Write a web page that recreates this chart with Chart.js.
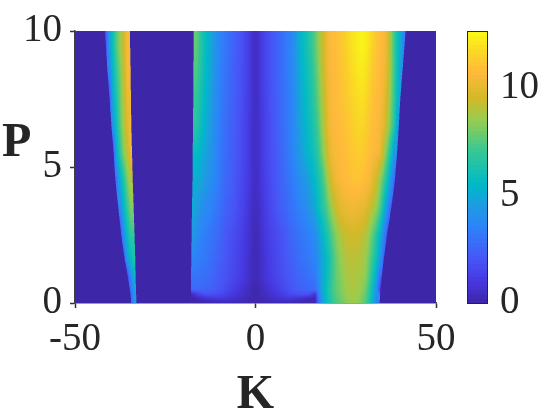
<!DOCTYPE html>
<html>
<head>
<meta charset="utf-8">
<title>P-K map</title>
<script src="https://cdn.jsdelivr.net/npm/chart.js@4"></script>
<style>
    html, body { margin: 0; padding: 0; background: #fff; }
    #wrap { position: relative; width: 560px; height: 420px; }
    canvas { position: absolute; left: 0; top: 0; }
</style>
</head>
<body>
<div id="wrap">
    <canvas id="mapChart" width="560" height="420"></canvas>
    <canvas id="barChart" width="560" height="420"></canvas>
</div>
<script>
// column and row edges of the map
const kEdges = [-50,-49,-48,-47,-46,-45,-44,-43,-42,-41,-40,-39,-38,-37,-36,-35,-34,-33,-32,-31,-30,-29,-28,-27,-26,-25,-24,-23,-22,-21,-20,-19,-18,-17,-16,-15,-14,-13,-12,-11,-10,-9,-8,-7,-6,-5,-4,-3,-2,-1,0,1,2,3,4,5,6,7,8,9,10,11,12,13,14,15,16,17,18,19,20,21,22,23,24,25,26,27,28,29,30,31,32,33,34,35,36,37,38,39,40,41,42,43,44,45,46,47,48,49,50];
const pEdges = [0, 0.1, 0.25, 0.4, 0.6, 1.25, 2, 3, 4, 5, 6, 7, 8, 9, 10];

// values, one row per P band, ten columns per group
const row0 = [0,0,0,0,0,0,0,0,0,0, 0,0,0,0,0,2.5,4.5,0,0,0, 0,0,0,0,0,0,0,0,0,0, 0,0,.1,.1,.1,.1,.1,.2,.2,.2, .3,.3,.3,.3,.3,.2,.2,.2,.1,.1, .1,.1,.2,.2,.2,.3,.3,.3,.3,.3, .2,.2,.2,.1,.1,.1,.1,3,4.5,5.5, 6.3,7,7.4,7.8,8.1,8.4,8.6,8.6,8.4,8, 7.5,6.5,5.3,3.5,0,0,0,0,0,0, 0,0,0,0,0,0,0,0,0,0];
const row1 = [0,0,0,0,0,0,0,0,0,0, 0,0,0,0,0,2.5,4.5,0,0,0, 0,0,0,0,0,0,0,0,0,0, 0,0,.1,.2,.4,.6,.8,.9,1,1, 1,.9,.8,.7,.6,.5,.4,.3,.2,.1, .1,.2,.3,.4,.5,.6,.7,.8,.9,1, .9,.8,.7,.5,.4,.3,.2,3.2,4.6,5.6, 6.4,7.1,7.5,7.9,8.2,8.5,8.7,8.7,8.5,8.1, 7.6,6.6,5.4,3.7,0,0,0,0,0,0, 0,0,0,0,0,0,0,0,0,0];
const row2 = [0,0,0,0,0,0,0,0,0,0, 0,0,0,0,0,2.5,4.5,0,0,0, 0,0,0,0,0,0,0,0,0,0, 0,0,.5,1,1.5,1.8,1.9,1.9,1.8,1.7, 1.6,1.4,1.2,1,.9,.7,.6,.4,.3,.1, .1,.3,.4,.6,.7,.9,1,1.2,1.4,1.6, 1.7,1.8,1.9,1.9,1.9,1.4,.8,3.4,4.7,5.7, 6.5,7.2,7.6,8,8.3,8.6,8.7,8.7,8.6,8.2, 7.7,6.7,5.5,3.9,0,0,0,0,0,0, 0,0,0,0,0,0,0,0,0,0];
const row3 = [0,0,0,0,0,0,0,0,0,0, 0,0,0,0,0,3,4.8,0,0,0, 0,0,0,0,0,0,0,0,0,0, 0,0,2.6,2.7,2.7,2.6,2.5,2.4,2.3,2.1, 1.9,1.7,1.5,1.3,1.1,.9,.7,.5,.3,.1, .1,.3,.5,.7,.9,1.1,1.3,1.5,1.7,1.9, 2.1,2.3,2.4,2.5,2.6,2.7,2.8,3.7,4.9,5.8, 6.6,7.3,7.7,8.1,8.4,8.7,8.8,8.8,8.7,8.4, 7.9,6.9,5.7,4.2,1.5,0,0,0,0,0, 0,0,0,0,0,0,0,0,0,0];
const row4 = [0,0,0,0,0,0,0,0,0,0, 0,0,0,0,1.5,3.8,5.2,0,0,0, 0,0,0,0,0,0,0,0,0,0, 0,0,3,3,3,2.9,2.8,2.7,2.5,2.3, 2.1,2,1.8,1.6,1.4,1.2,1,.8,.5,.3, .3,.5,.8,1,1.2,1.4,1.6,1.8,2,2.1, 2.3,2.5,2.6,2.7,2.9,3,3.2,4,4.9,5.6, 6.4,7.2,7.8,8.2,8.5,8.8,8.9,8.9,8.8,8.6, 8.3,7.4,6.2,4.8,2.5,0,0,0,0,0, 0,0,0,0,0,0,0,0,0,0];
const row5 = [0,0,0,0,0,0,0,0,0,0, 0,0,0,2.5,4.5,5.8,6.5,0,0,0, 0,0,0,0,0,0,0,0,0,0, 0,0,3.6,3.4,3.3,3.2,3.1,2.9,2.7,2.5, 2.3,2.1,1.9,1.7,1.5,1.3,1.1,.8,.5,.3, .3,.5,.8,1.1,1.3,1.5,1.7,1.9,2.1,2.3, 2.5,2.7,2.9,3,3.2,3.4,3.6,4.2,4.9,5.5, 6.3,7.2,7.9,8.4,8.8,9,9.1,9.1,9,8.9, 8.6,7.8,6.9,5.9,4.4,2.5,0,0,0,0, 0,0,0,0,0,0,0,0,0,0];
const row6 = [0,0,0,0,0,0,0,0,0,0, 0,0,1.5,4,5.8,7,0,0,0,0, 0,0,0,0,0,0,0,0,0,0, 0,0,4.4,4,3.7,3.5,3.3,3.1,2.9,2.7, 2.5,2.2,2,1.8,1.6,1.4,1.2,.9,.6,.3, .3,.6,.9,1.2,1.4,1.6,1.8,2,2.2,2.5, 2.7,2.9,3.1,3.2,3.4,3.6,3.9,4.6,5.3,6.1, 6.9,7.7,8.4,8.9,9.2,9.4,9.5,9.5,9.4,9.2, 9,8.4,7.6,6.6,5.4,3.6,2,0,0,0, 0,0,0,0,0,0,0,0,0,0];
const row7 = [0,0,0,0,0,0,0,0,0,0, 0,0,3.8,5.5,7,8.2,0,0,0,0, 0,0,0,0,0,0,0,0,0,0, 0,0,5,4.6,4.3,4,3.8,3.6,3.3,3.1, 2.8,2.5,2.3,2.1,1.9,1.6,1.4,1.1,.7,.4, .4,.7,1.1,1.4,1.7,1.9,2.2,2.4,2.6,2.9, 3.1,3.3,3.6,3.8,4.1,4.5,5,5.8,6.5,7.2, 8.1,8.9,9.5,9.9,10.1,10.2,10.3,10.3,10.2,10.1, 9.9,9.5,9,8.5,7.5,5.8,4,2.5,0,0, 0,0,0,0,0,0,0,0,0,0];
const row8 = [0,0,0,0,0,0,0,0,0,0, 0,3,5,6.5,8,9,0,0,0,0, 0,0,0,0,0,0,0,0,0,0, 0,0,0,5.2,4.9,4.6,4.3,4,3.7,3.4, 3,2.7,2.5,2.3,2,1.8,1.5,1.2,.9,.5, .5,.9,1.2,1.5,1.8,2,2.3,2.6,2.8,3.1, 3.4,3.7,4,4.2,4.6,5,5.6,6.2,7,8, 9.2,9.9,10.3,10.5,10.7,10.8,10.9,11,11,10.9, 10.8,10.5,10,9.4,8.4,7.3,6,4.2,2.5,0, 0,0,0,0,0,0,0,0,0,0];
const row9 = [0,0,0,0,0,0,0,0,0,0, 1.5,5,6.8,8.2,9.2,10.2,0,0,0,0, 0,0,0,0,0,0,0,0,0,0, 0,0,0,5.7,5.4,5,4.7,4.3,3.9,3.5, 3.1,2.8,2.6,2.3,2.1,1.9,1.6,1.3,.9,.5, .5,.9,1.3,1.6,1.9,2.1,2.4,2.7,3,3.3, 3.7,4.1,4.5,5,5.4,5.8,6.3,7,8,9, 10,10.4,10.6,10.7,10.8,10.9,11.1,11.2,11.3,11.3, 11.1,10.9,10.7,10.5,10.2,9,7.6,6.2,4.2,0, 0,0,0,0,0,0,0,0,0,0];
const row10 = [0,0,0,0,0,0,0,0,0,0, 4,6,7.5,8.8,9.8,10.5,0,0,0,0, 0,0,0,0,0,0,0,0,0,0, 0,0,0,6.7,6.1,5.5,5,4.5,4,3.6, 3.2,2.9,2.6,2.4,2.2,1.9,1.6,1.3,.9,.5, .5,.9,1.3,1.6,1.9,2.2,2.5,2.8,3.1,3.4, 3.8,4.3,4.8,5.2,5.7,6.1,6.7,7.5,8.5,9.5, 10.3,10.6,10.7,10.8,10.9,11.1,11.3,11.5,11.6,11.6, 11.4,11.1,10.8,10.7,10.4,10,9,7.8,6.5,4, 0,0,0,0,0,0,0,0,0,0];
const row11 = [0,0,0,0,0,0,0,0,0,2, 5,6.5,7.8,9,10.2,0,0,0,0,0, 0,0,0,0,0,0,0,0,0,0, 0,0,0,7,6.4,5.8,5.2,4.7,4.2,3.7, 3.3,3,2.7,2.5,2.2,2,1.7,1.3,1,.5, .5,1,1.3,1.7,2,2.2,2.5,2.8,3.1,3.4, 3.8,4.4,5,5.4,5.9,6.4,7,7.9,8.8,9.7, 10.4,10.7,10.8,10.9,11.1,11.3,11.5,11.7,11.8,11.9, 11.7,11.4,11,10.8,10.6,10.2,9.5,8.2,6.8,5.2, 0,0,0,0,0,0,0,0,0,0];
const row12 = [0,0,0,0,0,0,0,0,0,3.5, 5.5,7,8,9.2,10.5,0,0,0,0,0, 0,0,0,0,0,0,0,0,0,0, 0,0,0,7.4,6.7,6,5.4,4.9,4.3,3.8, 3.4,3.1,2.8,2.5,2.3,2,1.7,1.4,1,.5, .5,1,1.4,1.7,2,2.3,2.6,2.9,3.2,3.5, 3.9,4.5,5.1,5.6,6.1,6.6,7.3,8.2,9.1,9.9, 10.5,10.7,10.8,11,11.2,11.4,11.7,11.9,12.1,12.2, 12,11.6,11.2,10.9,10.7,10.4,9.8,8.4,7,5.5, 4,0,0,0,0,0,0,0,0,0];
const row13 = [0,0,0,0,0,0,0,0,2,4.5, 6,7.5,8.5,9.5,10.5,0,0,0,0,0, 0,0,0,0,0,0,0,0,0,0, 0,0,0,7.8,7,6.2,5.5,5,4.4,3.9, 3.5,3.2,2.9,2.6,2.3,2.1,1.8,1.4,1,.5, .5,1,1.4,1.7,2,2.3,2.6,2.9,3.2,3.5, 4,4.6,5.3,5.8,6.3,6.9,7.6,8.5,9.3,10, 10.6,10.8,10.9,11.1,11.3,11.6,11.9,12.1,12.3,12.5, 12.3,11.9,11.5,11.1,10.8,10.6,10,8.5,7,5.8, 4.5,3,0,0,0,0,0,0,0,0];
const rows = [row0, row1, row2, row3, row4, row5, row6, row7, row8, row9, row10, row11, row12, row13];

// where the coloured regions end, in K, read at these P values
const edgeP = [0, 0.5, 0.9, 1.6, 2.5, 3.5, 4.5, 5.5, 6.5, 7.5, 8.5, 10];
const band1Left = [-34.4, -34.8, -35.3, -36.2, -37.2, -38, -38.8, -39.3, -39.9, -40.4, -41, -41.7];
const band1Right = [-33, -33.1, -33.2, -33.3, -33.5, -33.75, -34, -34.2, -34.4, -34.5, -34.6, -34.8];
const midLeft = [-17.9, -17.9, -17.85, -17.8, -17.7, -17.6, -17.45, -17.4, -17.3, -17.25, -17.2, -17.1];
const band2Right = [34.4, 34.6, 34.9, 35.5, 36.4, 37.6, 38.6, 39.2, 39.7, 40.1, 40.7, 41.6];

// color bar levels and ticks
const barLevels = [0,.2,.4,.6,.8,1,1.2,1.4,1.6,1.8,2,2.2,2.4,2.6,2.8,3,3.2,3.4,3.6,3.8,4,4.2,4.4,4.6,4.8,5,5.2,5.4,5.6,5.8,6,6.2,6.4,6.6,6.8,7,7.2,7.4,7.6,7.8,8,8.2,8.4,8.6,8.8,9,9.2,9.4,9.6,9.8,10,10.2,10.4,10.6,10.8,11,11.2,11.4,11.6,11.8,12,12.2,12.4,12.65];
const barMax = 12.65;

// colormap as seen on the color bar
const stopValues = [0, 1, 2, 3.5, 4.5, 5.5, 7, 8.5, 9.5, 10.7, 11.5, 12.65];
const stopColors = [
    [62, 38, 168], [70, 56, 225], [72, 84, 246], [45, 130, 250], [30, 155, 225], [0, 185, 200],
    [50, 200, 150], [150, 205, 80], [210, 185, 40], [255, 185, 60], [250, 210, 40], [250, 250, 20]
];

const TEXT_COLOR = '#262626';
const SERIF = '"Liberation Serif", serif';

function rgbFor(v) {
    let i = 0;
    while (i < stopValues.length - 2 && v > stopValues[i + 1]) i++;
    const t = Math.min(1, (v - stopValues[i]) / (stopValues[i + 1] - stopValues[i]));
    return stopColors[i].map((a, n) => a + (stopColors[i + 1][n] - a) * t);
}

function edgeAt(edges, p) {
    let i = 0;
    while (i < edgeP.length - 2 && p > edgeP[i + 1]) i++;
    return edges[i] + (edges[i + 1] - edges[i]) * (p - edgeP[i]) / (edgeP[i + 1] - edgeP[i]);
}

const pCenters = pEdges.slice(0, -1).map((p, i) => (p + pEdges[i + 1]) / 2);

// shading between the cell values, zero cells lie outside the regions and carry no weight
function shadeAt(k, p) {
    const inBand1 = k >= edgeAt(band1Left, p) && k <= edgeAt(band1Right, p);
    const inRest = k >= edgeAt(midLeft, p) && k <= edgeAt(band2Right, p);
    if (!inBand1 && !inRest) return 0;
    let r = 0;
    while (r < pCenters.length - 2 && p > pCenters[r + 1]) r++;
    const fr = Math.max(0, Math.min(1, (p - pCenters[r]) / (pCenters[r + 1] - pCenters[r])));
    const col = Math.max(0, Math.min(98, Math.floor(k - kEdges[0] - 0.5)));
    const fc = Math.max(0, Math.min(1, k - kEdges[0] - 0.5 - col));
    const corners = [
        [rows[r][col], (1 - fr) * (1 - fc)], [rows[r][col + 1], (1 - fr) * fc],
        [rows[r + 1][col], fr * (1 - fc)], [rows[r + 1][col + 1], fr * fc]
    ];
    let sum = 0, weight = 0;
    corners.forEach(([v, w]) => { if (v > 0) { sum += v * w; weight += w; } });
    if (weight > 1e-6) return sum / weight;
    return Math.max(rows[r][col], rows[r][col + 1], rows[r + 1][col], rows[r + 1][col + 1]);
}

// the map, painted pixel by pixel through the chart's own scales
const mapPlugin = {
    id: 'mapShade',
    beforeDatasetsDraw(chart) {
        const { ctx, chartArea, scales } = chart;
        const left = Math.round(chartArea.left), top = Math.round(chartArea.top);
        const w = Math.round(chartArea.right) - left, h = Math.round(chartArea.bottom) - top;
        const img = ctx.createImageData(w, h);
        const subX = [0.17, 0.5, 0.83];
        for (let py = 0; py < h; py++) {
            const p = scales.y.getValueForPixel(top + py + 0.5);
            for (let px = 0; px < w; px++) {
                const c = [0, 0, 0];
                subX.forEach(s => {
                    const rgb = rgbFor(shadeAt(scales.x.getValueForPixel(left + px + s), p));
                    c[0] += rgb[0]; c[1] += rgb[1]; c[2] += rgb[2];
                });
                const o = (py * w + px) * 4;
                img.data[o] = c[0] / 3;
                img.data[o + 1] = c[1] / 3;
                img.data[o + 2] = c[2] / 3;
                img.data[o + 3] = 255;
            }
        }
        ctx.putImageData(img, left, top);
    }
};

// color bar cells placed with the chart's scales
const cellPlugin = {
    id: 'cells',
    beforeDatasetsDraw(chart) {
        const { ctx, scales } = chart;
        ctx.save();
        chart.data.datasets[0].data.forEach(cell => {
            const x0 = Math.round(scales.x.getPixelForValue(cell.x0));
            const x1 = Math.round(scales.x.getPixelForValue(cell.x1));
            const y0 = Math.round(scales.y.getPixelForValue(cell.y0));
            const y1 = Math.round(scales.y.getPixelForValue(cell.y1));
            const c = rgbFor(cell.v);
            ctx.fillStyle = `rgb(${c[0]},${c[1]},${c[2]})`;
            ctx.fillRect(x0, y1, x1 - x0, y0 - y1);
        });
        ctx.restore();
    }
};

// upright P label, an axis title would be rotated
const pLabelPlugin = {
    id: 'pLabel',
    afterDraw(chart) {
        const { ctx } = chart;
        ctx.save();
        ctx.font = `bold 48px ${SERIF}`;
        ctx.fillStyle = TEXT_COLOR;
        ctx.textBaseline = 'alphabetic';
        ctx.textAlign = 'left';
        ctx.fillText('P', 2, 156);
        ctx.restore();
    }
};

const barFramePlugin = {
    id: 'barFrame',
    afterDraw(chart) {
        const { ctx, chartArea } = chart;
        ctx.save();
        ctx.strokeStyle = TEXT_COLOR;
        ctx.lineWidth = 1;
        ctx.strokeRect(chartArea.left + 0.5, chartArea.top + 0.5, chartArea.right - chartArea.left - 1, chartArea.bottom - chartArea.top);
        ctx.restore();
    }
};

const mapCells = [];
rows.forEach((row, r) => {
    row.forEach((v, c) => {
        mapCells.push({ x: (kEdges[c] + kEdges[c + 1]) / 2, y: pCenters[r], v: v });
    });
});

const barCells = barLevels.slice(0, -1).map((lo, i) => ({
    x: 0.5,
    y: lo,
    x0: 0, x1: 1,
    y0: lo, y1: barLevels[i + 1],
    v: (lo + barLevels[i + 1]) / 2
}));

new Chart(document.getElementById('mapChart'), {
    type: 'scatter',
    data: { datasets: [{ data: mapCells, pointRadius: 0 }] },
    plugins: [mapPlugin, pLabelPlugin],
    options: {
        responsive: false,
        animation: false,
        events: [],
        layout: { padding: { top: 31, right: 124, left: 0, bottom: 0 } },
        plugins: { legend: { display: false }, tooltip: { enabled: false } },
        scales: {
            x: {
                type: 'linear',
                z: 1,
                min: -50,
                max: 50,
                afterFit(scale) { scale.height = 117; },
                title: { display: true, text: 'K', color: TEXT_COLOR, font: { family: SERIF, size: 48, weight: 'bold' }, padding: { top: 0, bottom: -4 } },
                border: { display: true, color: '#404040', width: 1.5 },
                grid: { drawOnChartArea: false, tickLength: 5, tickWidth: 1.5, tickColor: '#333' },
                ticks: { stepSize: 50, maxRotation: 0, color: TEXT_COLOR, padding: 8, font: { family: SERIF, size: 39 } }
            },
            y: {
                type: 'linear',
                z: 1,
                min: 0,
                max: 10,
                afterFit(scale) { scale.width = 75; scale.paddingTop = 0; },
                border: { display: true, color: '#404040', width: 1.5 },
                grid: { drawOnChartArea: false, tickLength: 5, tickWidth: 1.5, tickColor: '#333' },
                ticks: { stepSize: 5, color: TEXT_COLOR, padding: 8, font: { family: SERIF, size: 39 } }
            }
        }
    }
});

new Chart(document.getElementById('barChart'), {
    type: 'scatter',
    data: { datasets: [{ data: barCells, pointRadius: 0 }] },
    plugins: [cellPlugin, barFramePlugin],
    options: {
        responsive: false,
        animation: false,
        events: [],
        layout: { padding: { top: 31, right: 0, left: 467, bottom: 117 } },
        plugins: { legend: { display: false }, tooltip: { enabled: false } },
        scales: {
            x: { type: 'linear', min: 0, max: 1, display: false },
            y: {
                type: 'linear',
                position: 'right',
                z: 1,
                min: 0,
                max: barMax,
                // ticks padding would otherwise push the bar's top down
                afterFit(scale) { scale.width = 72; scale.paddingTop = 0; },
                border: { display: false },
                grid: { drawOnChartArea: false, tickLength: -2, tickWidth: 1, tickColor: '#222' },
                ticks: { stepSize: 5, includeBounds: false, color: TEXT_COLOR, padding: 14, font: { family: SERIF, size: 39 } }
            }
        }
    }
});
</script>
</body>
</html>
